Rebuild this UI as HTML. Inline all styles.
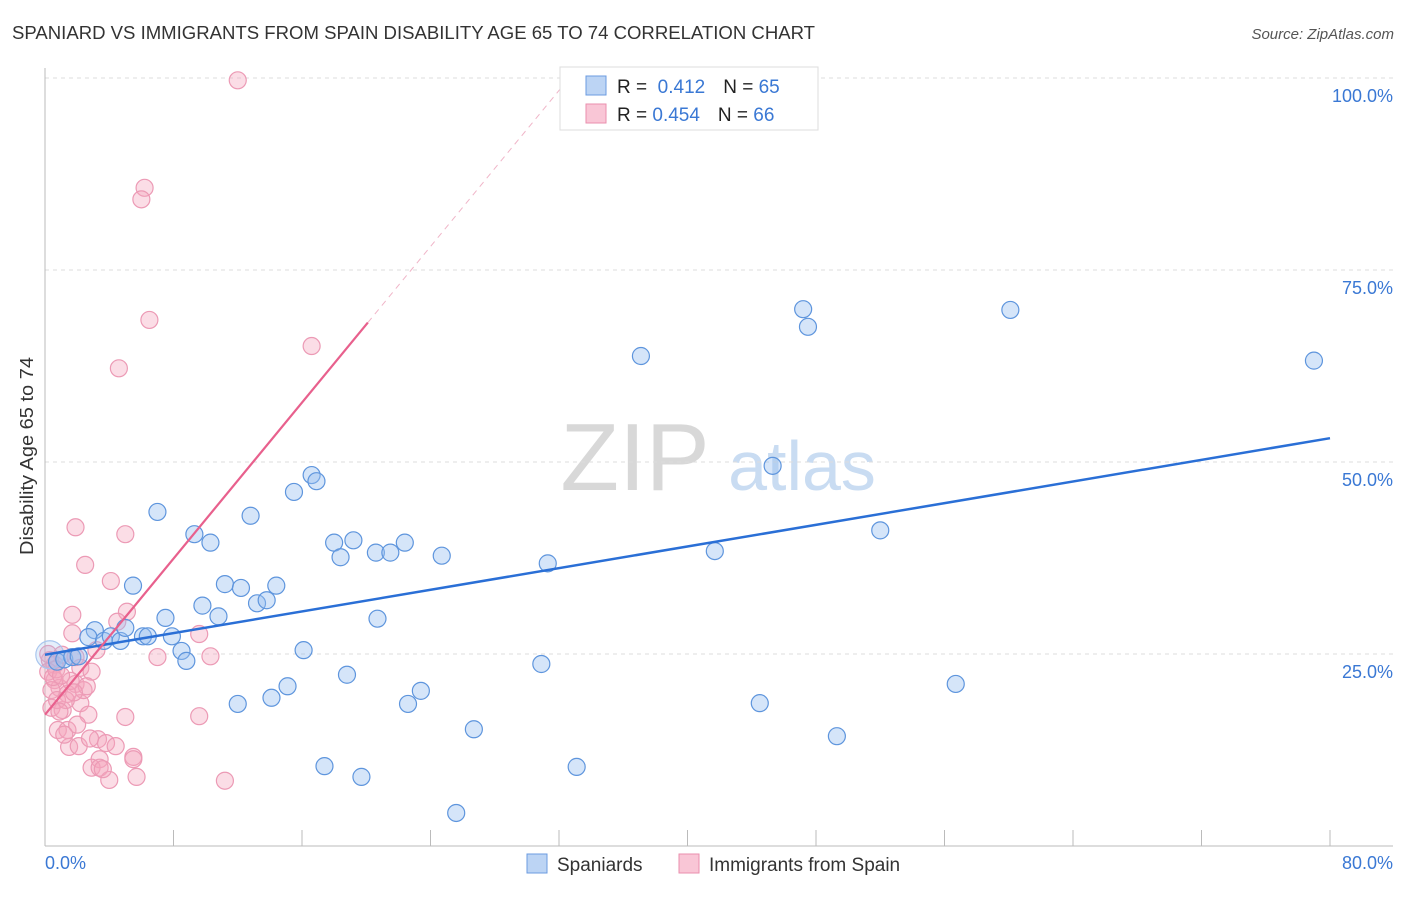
<!DOCTYPE html>
<html><head><meta charset="utf-8"><style>
body{margin:0;background:#fff;font-family:"Liberation Sans",sans-serif}
svg text{font-family:"Liberation Sans",sans-serif}
</style></head><body>
<svg id="chart" width="1406" height="892" viewBox="0 0 1406 892" xmlns="http://www.w3.org/2000/svg">
<text x="12" y="39" font-size="18" fill="#333" textLength="803" lengthAdjust="spacingAndGlyphs">SPANIARD VS IMMIGRANTS FROM SPAIN DISABILITY AGE 65 TO 74 CORRELATION CHART</text>
<text x="1394" y="39" font-size="15" fill="#555" font-style="italic" text-anchor="end">Source: ZipAtlas.com</text>
<g>
<text x="635" y="490" font-size="96" font-family="Liberation Serif" fill="#d8d8d8" text-anchor="middle">ZIP</text>
<text x="802" y="490" font-size="70" fill="#c9dcf2" text-anchor="middle">atlas</text>
</g>
<g id="grid"></g>
<g id="axes"></g>
<g id="pts"></g>
<g id="lines"></g>
<text transform="translate(33,456) rotate(-90)" font-size="18" fill="#333" text-anchor="middle" textLength="198" lengthAdjust="spacingAndGlyphs">Disability Age 65 to 74</text>
<text x="45" y="869" font-size="18" fill="#3a78d4">0.0%</text>
<text x="1393" y="869" font-size="18" fill="#3a78d4" text-anchor="end">80.0%</text>
<g>
<rect x="560" y="67" width="258" height="63" fill="#fff" stroke="#ddd"/>
<rect x="586" y="76" width="20" height="19" fill="#bcd4f4" stroke="#6b9be0"/>
<rect x="586" y="104" width="20" height="19" fill="#f9c6d6" stroke="#ea8fae"/>
<text x="617" y="93" font-size="19" fill="#222">R = <tspan fill="#3a78d4">&#160;0.412</tspan><tspan dx="18">N = </tspan><tspan fill="#3a78d4">65</tspan></text>
<text x="617" y="121" font-size="19" fill="#222">R = <tspan fill="#3a78d4">0.454</tspan><tspan dx="18">N = </tspan><tspan fill="#3a78d4">66</tspan></text>
</g>
<g>
<rect x="527" y="854" width="20" height="19" fill="#bcd4f4" stroke="#6b9be0"/>
<text x="557" y="871" font-size="19" fill="#333">Spaniards</text>
<rect x="679" y="854" width="20" height="19" fill="#f9c6d6" stroke="#ea8fae"/>
<text x="709" y="871" font-size="19" fill="#333">Immigrants from Spain</text>
</g>
</svg>
<script>
const yTicks=[25,50,75,100];
const yTickLabels=["25.0%","50.0%","75.0%","100.0%"];
const xTicks=[0,8,16,24,32,40,48,56,64,72,80];
const blueX=[5.48,7.0,3.1,2.7,3.67,4.1,4.7,5.0,6.1,6.4,7.5,7.9,8.5,8.8,9.3,9.8,10.3,10.8,11.2,12.0,12.2,12.8,13.2,13.8,14.1,14.4,15.1,15.5,16.1,16.6,16.9,17.4,18.0,18.4,18.8,19.2,19.7,20.6,20.7,21.5,22.4,22.6,23.4,24.7,25.6,26.7,30.9,31.3,33.1,37.1,41.7,44.5,45.3,47.2,47.5,49.3,52.0,56.7,60.1,79.0,0.3,0.75,1.2,1.7,2.1];
const blueY=[33.9,43.5,28.1,27.2,26.7,27.3,26.7,28.4,27.3,27.3,29.7,27.3,25.4,24.1,40.6,31.3,39.5,29.9,34.1,18.5,33.6,43.0,31.6,32.0,19.3,33.9,20.8,46.1,25.5,48.3,47.5,10.4,39.5,37.6,22.3,39.8,9.0,38.2,29.6,38.2,39.5,18.5,20.2,37.8,4.3,15.2,23.7,36.8,10.3,63.8,38.4,18.6,49.5,69.9,67.6,14.3,41.1,21.1,69.8,63.2,24.9,24.0,24.3,24.6,24.7];
const pinkX=[12.0,6.2,6.0,6.5,4.6,16.6,1.9,5.0,2.5,4.1,1.7,5.1,4.5,1.7,9.6,7.0,10.3,2.2,2.9,0.6,0.9,1.9,1.4,0.4,1.1,2.2,2.7,5.0,9.6,0.8,1.4,2.0,3.3,3.8,4.4,1.5,2.1,3.4,2.9,3.4,5.5,5.5,4.0,5.7,11.2,0.3,0.6,0.2,0.4,1.06,0.75,1.3,2.4,1.9,0.5,1.6,2.6,3.2,0.9,1.2,0.2,0.7,1.0,2.8,3.6,1.8];
const pinkY=[99.7,85.7,84.2,68.5,62.2,65.1,41.5,40.6,36.6,34.5,30.1,30.5,29.2,27.7,27.6,24.6,24.7,23.2,22.7,21.6,20.6,21.1,19.8,18.0,17.7,18.6,17.1,16.8,16.9,15.1,15.1,15.8,13.9,13.4,13.0,12.9,13.0,11.3,10.2,10.2,11.6,11.3,8.6,9.0,8.5,24.2,23.6,22.7,20.3,24.9,19.0,19.0,20.3,24.6,22.0,21.5,20.8,25.5,17.5,14.5,25.0,23.0,22.2,14.0,10.0,20.0];
const blueTrend=[24.9,53.1]; // y at x=0 and x=80
const pinkTrend=[17.1,2.54]; // intercept, slope
const NS="http://www.w3.org/2000/svg";
const X=v=>45+v/80*1285;
const Y=v=>846-v/100*768;
function mk(t,a,p){const e=document.createElementNS(NS,t);for(const k in a)e.setAttribute(k,a[k]);p.appendChild(e);return e;}
const grid=document.getElementById('grid');
yTicks.forEach((t,i)=>{
 const l=mk('line',{x1:45,x2:1393,y1:Y(t),y2:Y(t),stroke:'#ddd','stroke-dasharray':'4,4'},grid);
 
 
 const tx=mk('text',{x:1393,y:Y(t)+24,'font-size':18,fill:'#3a78d4','text-anchor':'end'},grid);
 tx.textContent=yTickLabels[i];
 
 
});
const axes=document.getElementById('axes');
const ax=mk('line',{x1:45,x2:1393,y1:846,y2:846,stroke:'#bbb'},axes);


const ay=mk('line',{x1:45,x2:45,y1:68,y2:846,stroke:'#bbb'},axes);


xTicks.forEach(t=>{
 const l=mk('line',{x1:X(t),x2:X(t),y1:830,y2:846,stroke:'#bbb'},axes);
 
 
});
const pts=document.getElementById('pts');
pinkX.forEach((x,i)=>{
 const c=mk('circle',{cx:X(x),cy:Y(pinkY[i]),r:8.5,fill:'rgba(245,165,190,0.38)',stroke:'#ec9ab5','stroke-width':1.2},pts);
 
 
});
blueX.forEach((x,i)=>{
 const big=i==60;
 const c=mk('circle',{cx:X(x),cy:Y(blueY[i]),r:big?14:8.5,fill:big?'rgba(150,190,240,0.25)':'rgba(150,190,240,0.4)',stroke:big?'#a9c6ee':'#5e95dd','stroke-width':1.2},pts);
 
 
});
const lines=document.getElementById('lines');
const bl=mk('line',{x1:X(0),y1:Y(blueTrend[0]),x2:X(80),y2:Y(blueTrend[1]),stroke:'#2a6fd6','stroke-width':2.5},lines);


const pEnd=20.1, pDash=(100-pinkTrend[0])/pinkTrend[1];
const pl=mk('line',{x1:X(0),y1:Y(pinkTrend[0]),x2:X(pEnd),y2:Y(pinkTrend[0]+pinkTrend[1]*pEnd),stroke:'#e8608d','stroke-width':2.2},lines);


const pd=mk('line',{x1:X(pEnd),y1:Y(pinkTrend[0]+pinkTrend[1]*pEnd),x2:X(pDash),y2:Y(100),stroke:'#f0b5c8','stroke-width':1,'stroke-dasharray':'6,5'},lines);


</script>
</body></html>
